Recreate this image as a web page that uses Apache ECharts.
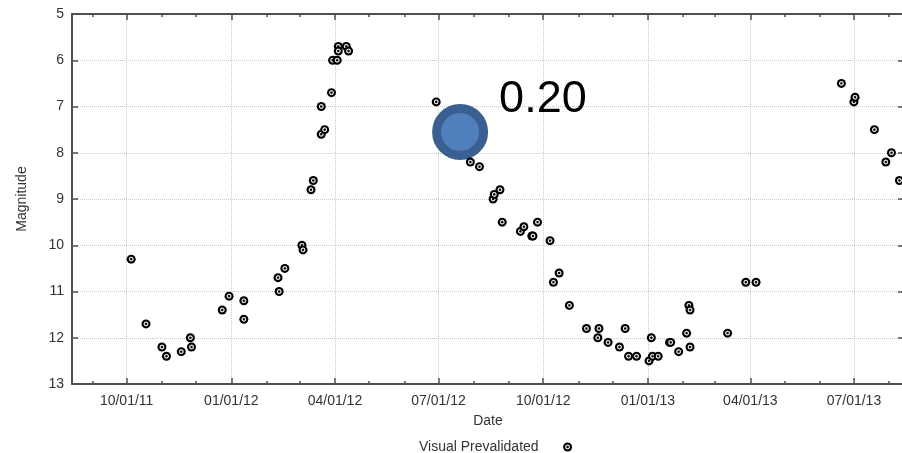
<!DOCTYPE html>
<html>
<head>
<meta charset="utf-8">
<script src="https://cdn.jsdelivr.net/npm/echarts@6/dist/echarts.min.js"></script>
<style>
html,body{margin:0;padding:0;background:#fff;}
#chart{width:902px;height:453px;}
</style>
</head>
<body>
<div id="chart"></div>
<script>
// ---- data ----
const dates = [
  '2011-10-05','2011-10-18','2011-11-01','2011-11-05','2011-11-18','2011-11-26','2011-11-27',
  '2011-12-24','2011-12-30','2012-01-12','2012-01-12','2012-02-11','2012-02-12','2012-02-17',
  '2012-03-03','2012-03-04','2012-03-11','2012-03-13','2012-03-20','2012-03-23','2012-03-20',
  '2012-03-29','2012-03-30','2012-04-03','2012-04-04','2012-04-04','2012-04-11','2012-04-13',
  '2012-06-29','2012-07-29','2012-08-06','2012-08-18','2012-08-19','2012-08-24','2012-08-26',
  '2012-09-11','2012-09-14','2012-09-21','2012-09-22','2012-09-26','2012-10-07','2012-10-10',
  '2012-10-15','2012-10-24','2012-11-08','2012-11-18','2012-11-19','2012-11-27','2012-12-07',
  '2012-12-12','2012-12-15','2012-12-22','2013-01-02','2013-01-04','2013-01-05','2013-01-10',
  '2013-01-20','2013-01-21','2013-01-28','2013-02-04','2013-02-06','2013-02-07','2013-02-07',
  '2013-03-12','2013-03-28','2013-04-06','2013-06-20','2013-07-01','2013-07-02','2013-07-19',
  '2013-07-29','2013-08-03','2013-08-10'
];
const magnitudes = [
  10.3,11.7,12.2,12.4,12.3,12.0,12.2,
  11.4,11.1,11.2,11.6,10.7,11.0,10.5,
  10.0,10.1,8.8,8.6,7.6,7.5,7.0,
  6.7,6.0,6.0,5.7,5.8,5.7,5.8,
  6.9,8.2,8.3,9.0,8.9,8.8,9.5,
  9.7,9.6,9.8,9.8,9.5,9.9,10.8,
  10.6,11.3,11.8,12.0,11.8,12.1,12.2,
  11.8,12.4,12.4,12.5,12.0,12.4,12.4,
  12.1,12.1,12.3,11.9,11.3,11.4,12.2,
  11.9,10.8,10.8,6.5,6.9,6.8,7.5,
  8.2,8.0,8.6
];
const bubbleDates = ['2012-07-20'];
const bubbleMags = [7.55];
const bubbleLabels = ['0.20'];
const seriesName = 'Visual Prevalidated';
const xMin = '2011-08-14';
const xMax = '2013-08-14';
const yMin = 5, yMax = 13, yStep = 1;

// ---- chart ----
const DAY = 86400000;
const FONT = 'Liberation Sans, Arial, Helvetica, sans-serif';
const axisColor = '#505050';
const pad = n => (n < 10 ? '0' : '') + n;
const fmt = v => { const d = new Date(v); return pad(d.getMonth() + 1) + '/' + pad(d.getDate()) + '/' + pad(d.getFullYear() % 100); };

const markerColor = {
  type: 'radial', x: 0.5, y: 0.5, r: 0.5,
  colorStops: [
    { offset: 0, color: '#000' }, { offset: 0.18, color: '#111' },
    { offset: 0.36, color: '#e0e0e0' }, { offset: 0.46, color: '#d0d0d0' },
    { offset: 0.62, color: '#000' }, { offset: 1, color: '#000' }
  ]
};

function timeAxis(extra) {
  return Object.assign({
    type: 'time', min: xMin, max: xMax, gridIndex: 0,
    axisLine: { show: false },
    axisLabel: { show: false },
    splitLine: { show: false },
    axisPointer: { show: false }
  }, extra);
}

const chart = echarts.init(document.getElementById('chart'), null, { renderer: 'canvas' });
chart.setOption({
  animation: false,
  backgroundColor: '#fff',
  textStyle: { fontFamily: FONT },
  grid: { left: 72, right: -2, top: 14, bottom: 69, containLabel: false, outerBoundsMode: 'none' },
  legend: {
    data: [seriesName], left: 419, top: 440, align: 'right',
    itemWidth: 48, itemHeight: 9, padding: 0,
    textStyle: { fontSize: 14, color: '#333', fontFamily: FONT }
  },
  xAxis: [
    timeAxis({
      position: 'bottom', minInterval: 100 * DAY, maxInterval: 100 * DAY,
      axisLine: { show: true, onZero: false, lineStyle: { color: axisColor, width: 2 } },
      axisTick: { show: true, inside: true, length: 6, lineStyle: { color: axisColor, width: 1.5 } },
      axisLabel: { show: true, formatter: fmt, fontSize: 14, color: '#333', margin: 10, showMinLabel: false, showMaxLabel: false, fontFamily: FONT },
      splitLine: { show: true, lineStyle: { color: '#c8c8c8', type: 'dotted', width: 1 } },
      name: 'Date', nameLocation: 'middle', nameGap: 30,
      nameTextStyle: { fontSize: 14, color: '#333', fontFamily: FONT }
    }),
    timeAxis({
      position: 'bottom', minInterval: 30 * DAY, maxInterval: 30 * DAY,
      axisTick: { show: true, inside: true, length: 3, lineStyle: { color: axisColor, width: 1.5 } }
    }),
    timeAxis({
      position: 'top', minInterval: 100 * DAY, maxInterval: 100 * DAY,
      axisLine: { show: true, onZero: false, lineStyle: { color: axisColor, width: 2 } },
      axisTick: { show: true, inside: true, length: 6, lineStyle: { color: axisColor, width: 1.5 } }
    }),
    timeAxis({
      position: 'top', minInterval: 30 * DAY, maxInterval: 30 * DAY,
      axisTick: { show: true, inside: true, length: 3, lineStyle: { color: axisColor, width: 1.5 } }
    })
  ],
  yAxis: [
    {
      type: 'value', inverse: true, min: yMin, max: yMax, interval: yStep, position: 'left',
      axisLine: { show: true, onZero: false, lineStyle: { color: axisColor, width: 2 } },
      axisTick: { show: true, inside: true, length: 6, lineStyle: { color: axisColor, width: 1.5 } },
      axisLabel: { fontSize: 14, color: '#333', margin: 8, fontFamily: FONT },
      splitLine: { show: true, lineStyle: { color: '#c8c8c8', type: 'dotted', width: 1 } },
      name: 'Magnitude', nameLocation: 'middle', nameGap: 43, nameRotate: 90,
      nameTextStyle: { fontSize: 14, color: '#333', fontFamily: FONT }
    },
    {
      type: 'value', inverse: true, min: yMin, max: yMax, interval: yStep, position: 'right',
      axisLine: { show: true, onZero: false, lineStyle: { color: axisColor, width: 2 } },
      axisTick: { show: true, inside: true, length: 6, lineStyle: { color: axisColor, width: 1.5 } },
      axisLabel: { show: false },
      splitLine: { show: false }
    }
  ],
  series: [
    {
      name: 'bubble', type: 'scatter', xAxisIndex: 0, yAxisIndex: 0,
      data: bubbleDates.map((d, i) => [d, bubbleMags[i], bubbleLabels[i]]),
      symbol: 'circle', symbolSize: 47, z: 2,
      itemStyle: { color: '#4f80bd', borderColor: '#3a6091', borderWidth: 9, opacity: 1 },
      label: {
        show: true, position: 'right', distance: 11, offset: [0, -32],
        formatter: p => p.data[2], fontSize: 45, color: '#000', fontFamily: FONT
      },
      emphasis: { disabled: true }
    },
    {
      name: seriesName, type: 'scatter', xAxisIndex: 0, yAxisIndex: 0,
      data: dates.map((d, i) => [d, magnitudes[i]]),
      symbol: 'circle', symbolSize: 9, z: 3,
      itemStyle: { color: markerColor, opacity: 1 },
      emphasis: { disabled: true }
    }
  ]
});
</script>
</body>
</html>
